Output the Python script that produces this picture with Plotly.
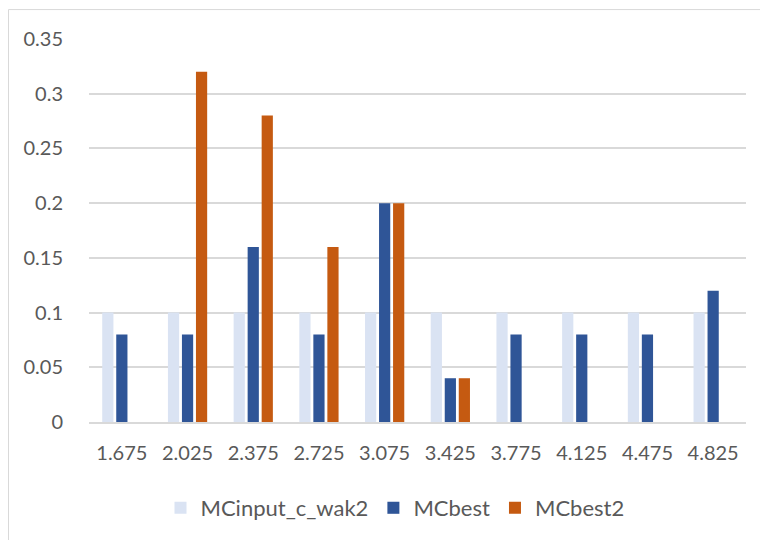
import plotly.graph_objects as go

categories = ["1.675", "2.025", "2.375", "2.725", "3.075", "3.425", "3.775", "4.125", "4.475", "4.825"]
mcinput = [0.1, 0.1, 0.1, 0.1, 0.1, 0.1, 0.1, 0.1, 0.1, 0.1]
mcbest = [0.08, 0.08, 0.16, 0.08, 0.2, 0.04, 0.08, 0.08, 0.08, 0.12]
mcbest2 = [0, 0.32, 0.28, 0.16, 0.2, 0.04, 0, 0, 0, 0]

OFF = 8  # page body margin
W, H = 768 - OFF, 540 - OFF
L, T = 89 - OFF, 39 - OFF
pw, ph = 657, 384
R = W - L - pw
B = H - T - ph

fig = go.Figure()
fig.add_bar(x=categories, y=mcinput, name="MCinput_c_wak2", marker_color="#DAE3F3", marker_line_width=0)
fig.add_bar(x=categories, y=mcbest, name="MCbest", marker_color="#2F5597", marker_line_width=0)
fig.add_bar(x=categories, y=mcbest2, name="MCbest2", marker_color="#C55A11", marker_line_width=0)

# screen pixel -> paper coordinate
def px(x):
    return (x - OFF - L) / pw

def py(y):
    return (T + ph - (y - OFF)) / ph

fig.add_shape(type="rect", xref="paper", yref="paper",
              x0=px(OFF + 0.5), x1=px(785), y0=py(9.5), y1=py(555),
              line=dict(color="#D9D9D9", width=1), fillcolor="rgba(0,0,0,0)", layer="below")

font = dict(family="Lato, Carlito, Calibri, sans-serif", size=20, color="#595959")
lfont = dict(family="Lato, Carlito, Calibri, sans-serif", size=22, color="#595959")
fig.update_layout(
    width=W, height=H,
    margin=dict(l=L, r=R, t=T, b=B),
    paper_bgcolor="white", plot_bgcolor="white",
    barmode="group", bargap=0.36, bargroupgap=0.2,
    font=font,
    showlegend=True,
    legend=dict(orientation="h", x=px(395), xanchor="center", y=py(508), yanchor="middle",
                font=lfont, itemsizing="constant", traceorder="normal"),
    xaxis=dict(type="category", showgrid=False, showline=True, linecolor="#D9D9D9", linewidth=1.5,
               ticks="", ticklabelstandoff=12, tickfont=font),
    yaxis=dict(range=[0, 0.35], dtick=0.05, tick0=0, showgrid=True, gridcolor="#D9D9D9", gridwidth=1.5,
               zeroline=False, showline=False, ticks="", ticklabelstandoff=25, tickfont=font),
)

fig.write_html("out.html")
